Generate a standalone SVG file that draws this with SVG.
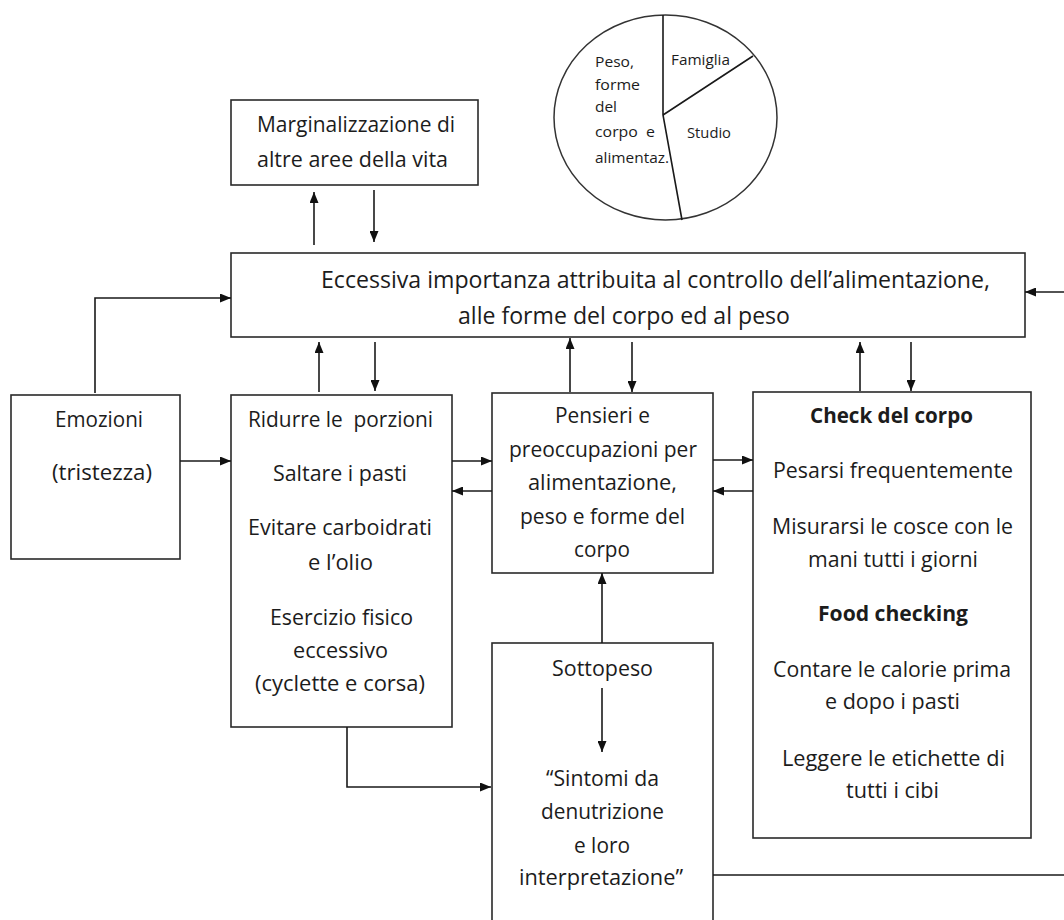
<svg xmlns="http://www.w3.org/2000/svg" width="1064" height="920" viewBox="0 0 1064 920">
<style>
.box{fill:#fff;stroke:#2a2a2a;stroke-width:1.6}
.t{font-family:"Open Sans","Liberation Sans",sans-serif;font-size:22px;fill:#1c1c1c;text-anchor:middle}
.m{font-size:23px}
.b{font-weight:bold}
.s{font-family:"Open Sans","Liberation Sans",sans-serif;font-size:14.5px;fill:#1c1c1c}
.c{stroke:#1a1a1a;stroke-width:1.6;fill:none}
.pie{fill:#fff;stroke:#333;stroke-width:1.5}
</style>
<defs>
<marker id="ah" markerUnits="userSpaceOnUse" markerWidth="11" markerHeight="9" refX="11" refY="4.5" orient="auto">
<path d="M0,0 L11,4.5 L0,9 z" fill="#111"/>
</marker>
</defs>
<rect width="1064" height="920" fill="#fff"/>

<g id="pie">
<ellipse class="pie" cx="665.5" cy="117.5" rx="111.5" ry="102.5"/>
<path class="c" d="M663,15 L663,115 L682,220 M663,115 L753,56" stroke-width="1.4"/>
<text class="s" x="595" y="67" textLength="39" lengthAdjust="spacingAndGlyphs">Peso,</text>
<text class="s" x="595" y="90" textLength="45" lengthAdjust="spacingAndGlyphs">forme</text>
<text class="s" x="595" y="112" textLength="22" lengthAdjust="spacingAndGlyphs">del</text>
<text class="s" x="595" y="137" textLength="60" lengthAdjust="spacingAndGlyphs" xml:space="preserve">corpo  e</text>
<text class="s" x="595" y="163" textLength="74" lengthAdjust="spacingAndGlyphs">alimentaz.</text>
<text class="s" x="671" y="65" textLength="59" lengthAdjust="spacingAndGlyphs">Famiglia</text>
<text class="s" x="687" y="138" textLength="44" lengthAdjust="spacingAndGlyphs">Studio</text>
</g>

<g id="marginalizzazione">
<rect class="box" x="231" y="100" width="247" height="85"/>
<text class="t" x="356" y="132" textLength="198" lengthAdjust="spacingAndGlyphs">Marginalizzazione di</text>
<text class="t" x="352.5" y="167" textLength="191" lengthAdjust="spacingAndGlyphs">altre aree della vita</text>
</g>

<g id="eccessiva">
<rect class="box" x="231" y="253" width="794" height="84"/>
<text class="t m" x="655.5" y="288" textLength="669" lengthAdjust="spacingAndGlyphs">Eccessiva importanza attribuita al controllo dell’alimentazione,</text>
<text class="t m" x="624" y="324" textLength="332" lengthAdjust="spacingAndGlyphs">alle forme del corpo ed al peso</text>
</g>

<g id="emozioni">
<rect class="box" x="11" y="395" width="169" height="164"/>
<text class="t" x="99" y="427" textLength="88" lengthAdjust="spacingAndGlyphs">Emozioni</text>
<text class="t" x="102" y="480" textLength="100" lengthAdjust="spacingAndGlyphs">(tristezza)</text>
</g>

<g id="ridurre">
<rect class="box" x="231" y="395" width="221" height="332"/>
<text class="t" x="340.5" y="427" textLength="185" lengthAdjust="spacingAndGlyphs" xml:space="preserve">Ridurre le  porzioni</text>
<text class="t" x="340" y="481" textLength="134" lengthAdjust="spacingAndGlyphs">Saltare i pasti</text>
<text class="t" x="340" y="535" textLength="184" lengthAdjust="spacingAndGlyphs">Evitare carboidrati</text>
<text class="t" x="340.5" y="570" textLength="65" lengthAdjust="spacingAndGlyphs">e l’olio</text>
<text class="t" x="341.5" y="625" textLength="143" lengthAdjust="spacingAndGlyphs">Esercizio fisico</text>
<text class="t" x="340.5" y="658" textLength="95" lengthAdjust="spacingAndGlyphs">eccessivo</text>
<text class="t" x="340" y="691" textLength="170" lengthAdjust="spacingAndGlyphs">(cyclette e corsa)</text>
</g>

<g id="pensieri">
<rect class="box" x="492" y="393" width="221" height="180"/>
<text class="t" x="602.5" y="423" textLength="95" lengthAdjust="spacingAndGlyphs">Pensieri e</text>
<text class="t" x="603" y="457" textLength="188" lengthAdjust="spacingAndGlyphs">preoccupazioni per</text>
<text class="t" x="602.5" y="490" textLength="149" lengthAdjust="spacingAndGlyphs">alimentazione,</text>
<text class="t" x="602.5" y="524" textLength="165" lengthAdjust="spacingAndGlyphs">peso e forme del</text>
<text class="t" x="602" y="557" textLength="56" lengthAdjust="spacingAndGlyphs">corpo</text>
</g>

<g id="check">
<rect class="box" x="753" y="392" width="278" height="446"/>
<text class="t b" x="891.5" y="423" textLength="163" lengthAdjust="spacingAndGlyphs">Check del corpo</text>
<text class="t" x="893" y="478" textLength="240" lengthAdjust="spacingAndGlyphs">Pesarsi frequentemente</text>
<text class="t" x="892.5" y="534" textLength="241" lengthAdjust="spacingAndGlyphs">Misurarsi le cosce con le</text>
<text class="t" x="893" y="567" textLength="170" lengthAdjust="spacingAndGlyphs">mani tutti i giorni</text>
<text class="t b" x="893" y="621" textLength="150" lengthAdjust="spacingAndGlyphs">Food checking</text>
<text class="t" x="892" y="677" textLength="238" lengthAdjust="spacingAndGlyphs">Contare le calorie prima</text>
<text class="t" x="892.5" y="709" textLength="135" lengthAdjust="spacingAndGlyphs">e dopo i pasti</text>
<text class="t" x="893.5" y="766" textLength="223" lengthAdjust="spacingAndGlyphs">Leggere le etichette di</text>
<text class="t" x="892.5" y="798" textLength="93" lengthAdjust="spacingAndGlyphs">tutti i cibi</text>
</g>

<g id="sottopeso">
<rect class="box" x="492" y="643" width="221" height="290"/>
<text class="t" x="602.5" y="676" textLength="101" lengthAdjust="spacingAndGlyphs">Sottopeso</text>
<text class="t" x="602.5" y="786" textLength="113" lengthAdjust="spacingAndGlyphs">“Sintomi da</text>
<text class="t" x="602.5" y="819" textLength="123" lengthAdjust="spacingAndGlyphs">denutrizione</text>
<text class="t" x="602" y="853" textLength="56" lengthAdjust="spacingAndGlyphs">e loro</text>
<text class="t" x="601" y="885" textLength="164" lengthAdjust="spacingAndGlyphs">interpretazione”</text>
</g>

<g id="connectors">
<path class="c" d="M314,245 L314,192" marker-end="url(#ah)"/>
<path class="c" d="M374,190 L374,242" marker-end="url(#ah)"/>
<path class="c" d="M1064,292 L1025,292" marker-end="url(#ah)"/>
<path class="c" d="M95,393 L95,298 L231,298" marker-end="url(#ah)"/>
<path class="c" d="M319,392 L319,342" marker-end="url(#ah)"/>
<path class="c" d="M375,342 L375,391" marker-end="url(#ah)"/>
<path class="c" d="M570,392 L570,338" marker-end="url(#ah)" stroke="#555"/>
<path class="c" d="M632,342 L632,392" marker-end="url(#ah)"/>
<path class="c" d="M860,391 L860,342" marker-end="url(#ah)" stroke="#555"/>
<path class="c" d="M911,342 L911,391" marker-end="url(#ah)"/>
<path class="c" d="M180,461 L231,461" marker-end="url(#ah)"/>
<path class="c" d="M452,461 L492,461" marker-end="url(#ah)" stroke="#555"/>
<path class="c" d="M492,491 L452,491" marker-end="url(#ah)"/>
<path class="c" d="M713,460 L753,460" marker-end="url(#ah)"/>
<path class="c" d="M753,491 L713,491" marker-end="url(#ah)" stroke="#555"/>
<path class="c" d="M602,643 L602,573" marker-end="url(#ah)"/>
<path class="c" d="M602,688 L602,752" marker-end="url(#ah)" stroke="#555"/>
<path class="c" d="M347,727 L347,787 L491,787" marker-end="url(#ah)"/>
<path class="c" d="M713,875 L1064,875" stroke="#777" stroke-width="2"/>
</g>
</svg>
